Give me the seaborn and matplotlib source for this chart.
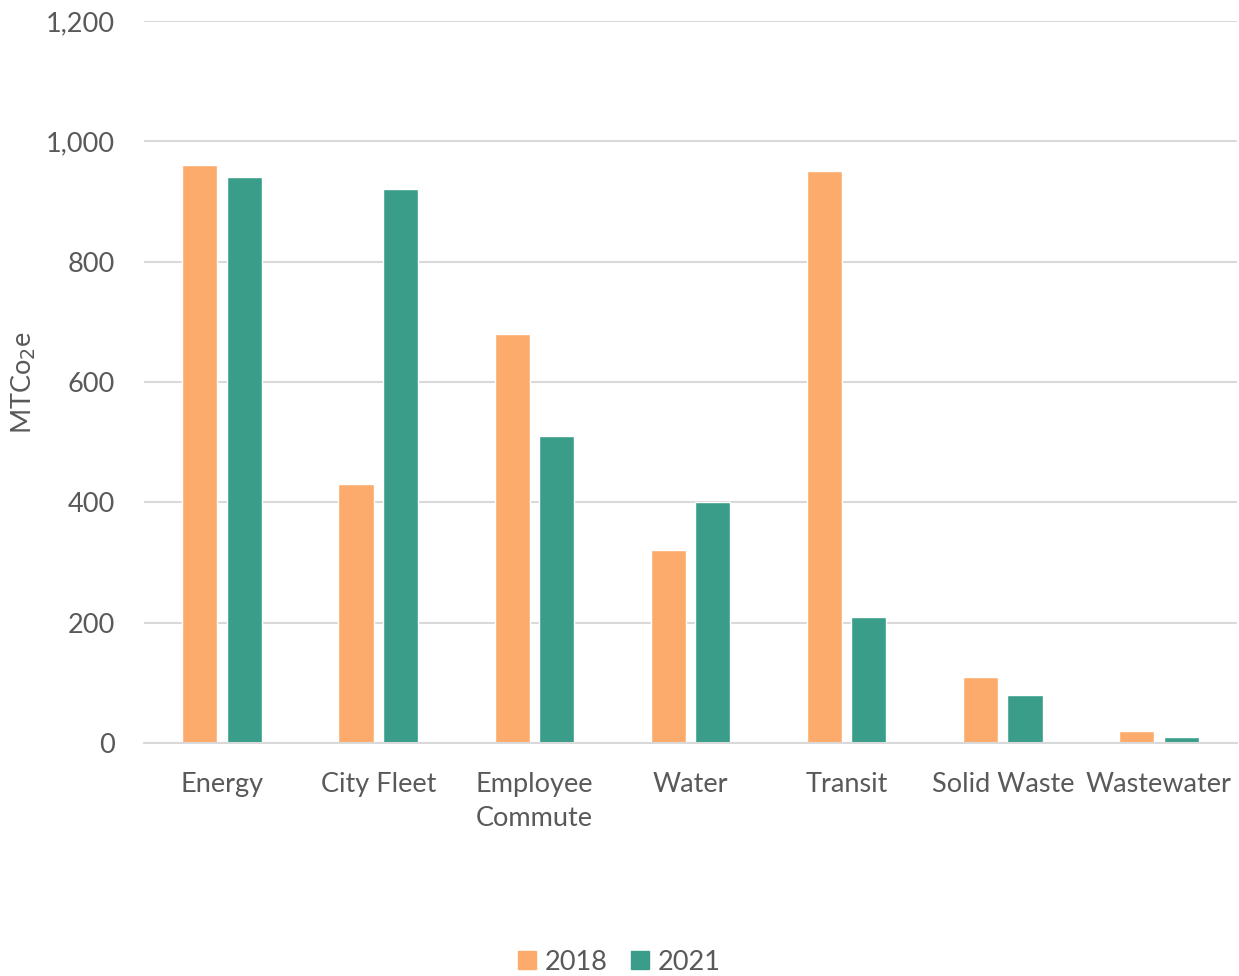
import matplotlib
matplotlib.use("Agg")
import matplotlib.pyplot as plt
import seaborn as sns
import pandas as pd

categories = ["Energy", "City Fleet", "Employee\nCommute", "Water", "Transit", "Solid Waste", "Wastewater"]
values_2018 = [960, 430, 680, 320, 950, 110, 20]
values_2021 = [940, 920, 510, 400, 210, 80, 10]
years = ["2018", "2021"]
colors = ["#FDAB6D", "#3A9D8A"]
yticks = [0, 200, 400, 600, 800, 1000, 1200]

df = pd.DataFrame({
    "Category": categories * 2,
    "Year": [years[0]] * len(categories) + [years[1]] * len(categories),
    "Value": values_2018 + values_2021,
})

sns.set_theme(style="white")
plt.rcParams["font.family"] = ["Lato", "DejaVu Sans"]
text_color = "#595959"
fs = 19.5

fig = plt.figure(figsize=(12.39, 9.76), dpi=100)
ax = fig.add_axes([144 / 1239, 1 - 743 / 976, (1237 - 144) / 1239, (743 - 21) / 976])

sns.barplot(data=df, x="Category", y="Value", hue="Year", palette=colors,
            width=0.57, gap=0.21, ax=ax, legend=False, saturation=1)

ax.set_ylim(0, 1200)
ax.set_xlim(-0.5, len(categories) - 0.5)
ax.set_yticks(yticks)
ax.set_yticklabels([f"{v:,}" for v in yticks])
ax.yaxis.grid(True, color="#D9D9D9", linewidth=1.5)
ax.set_axisbelow(True)
for side in ["top", "right", "left"]:
    ax.spines[side].set_visible(False)
ax.spines["bottom"].set_color("#D9D9D9")
ax.spines["bottom"].set_linewidth(1.5)
ax.tick_params(axis="both", length=0, labelsize=fs, colors=text_color)
ax.tick_params(axis="x", pad=21)
ax.tick_params(axis="y", pad=21)
for lbl in ax.get_xticklabels():
    lbl.set_linespacing(1.45)
ax.set_xlabel("")
ax.set_ylabel("MTCo$_2$e", fontsize=fs, color=text_color)
ax.yaxis.set_label_coords(-106 / 1093, 0.5)

handles = [plt.Rectangle((0, 0), 1, 1, color=c) for c in colors]
fig.legend(handles, years, loc="center", bbox_to_anchor=(0.5, 1 - 962 / 976), ncol=2,
           frameon=False, fontsize=fs, labelcolor=text_color, handlelength=0.65,
           handleheight=0.65, handletextpad=0.35, columnspacing=0.85)

fig.savefig("out.png", dpi=100)
